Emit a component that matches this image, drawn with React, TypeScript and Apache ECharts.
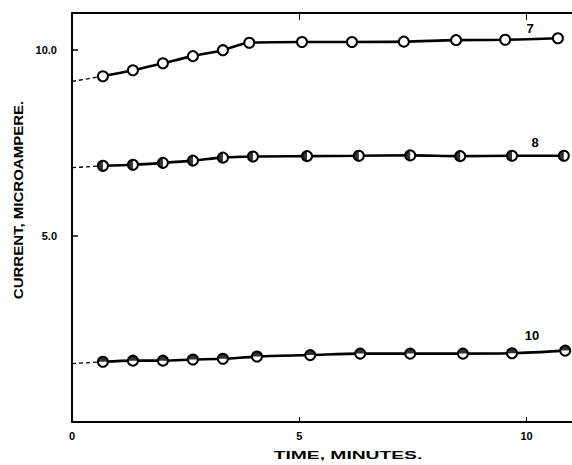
import React, { useEffect, useRef } from "react";
import * as echarts from "echarts";

// Data
const timeS7 = [0.68, 1.34, 2.0, 2.66, 3.32, 3.9, 5.06, 6.16, 7.3, 8.45, 9.53, 10.69];
const currentS7 = [9.3, 9.46, 9.65, 9.84, 10.0, 10.2, 10.22, 10.22, 10.23, 10.27, 10.28, 10.32];
const timeS8 = [0.68, 1.34, 2.0, 2.66, 3.32, 3.98, 5.17, 6.31, 7.44, 8.54, 9.68, 10.82];
const currentS8 = [6.89, 6.92, 6.97, 7.03, 7.11, 7.14, 7.15, 7.16, 7.17, 7.15, 7.16, 7.16];
const timeS10 = [0.68, 1.34, 2.0, 2.66, 3.32, 4.07, 5.24, 6.34, 7.44, 8.6, 9.68, 10.85];
const currentS10 = [1.62, 1.65, 1.65, 1.68, 1.7, 1.76, 1.8, 1.84, 1.84, 1.84, 1.85, 1.92];
const interceptAtZero = [9.16, 6.84, 1.57];
const curveNames = ["7", "8", "10"];
const curveLabelX = [10.08, 10.19, 10.12];
const curveLabelY = [10.57, 7.51, 2.32];
const xTickLabels = [0, 5, 10];
const yTickLabels = [5, 10];

const pairs = (xs: number[], ys: number[]) => xs.map((x, i) => [x, ys[i]]);

const HALF_LEFT = "path://M10,0 A10,10 0 0,0 10,20 Z";
const HALF_TOP = "path://M0,10 A10,10 0 0,1 20,10 Z";

export default function App() {
  const ref = useRef<HTMLDivElement>(null);
  useEffect(() => {
    if (!ref.current) return;
    const chart = echarts.init(ref.current, null, { renderer: "svg" });
    const sets = [
      [timeS7, currentS7],
      [timeS8, currentS8],
      [timeS10, currentS10],
    ];
    const series: any[] = [];
    sets.forEach(([xs, ys], i) => {
      series.push({
        type: "line",
        data: [
          [0, interceptAtZero[i]],
          [xs[0], ys[0]],
        ],
        symbol: "none",
        lineStyle: { color: "#000", width: 1.3, type: [4, 3] },
        z: 2,
      });
      series.push({
        type: "line",
        data: pairs(xs, ys),
        smooth: 0.3,
        symbol: "circle",
        symbolSize: 10,
        itemStyle: { color: "#fff", borderColor: "#000", borderWidth: 2 },
        lineStyle: { color: "#000", width: 2.6 },
        z: 3,
      });
    });
    series.push({
      type: "scatter",
      data: pairs(timeS8, currentS8),
      symbol: HALF_LEFT,
      symbolSize: [5, 10],
      symbolOffset: [-2.5, 0],
      itemStyle: { color: "#000" },
      z: 5,
    });
    series.push({
      type: "scatter",
      data: pairs(timeS10, currentS10),
      symbol: HALF_TOP,
      symbolSize: [10, 5],
      symbolOffset: [0, -2.5],
      itemStyle: { color: "#000" },
      z: 5,
    });

    const baseGraphic: any[] = [
      {
        id: "ytitle",
        type: "text",
        x: 19,
        y: 200,
        rotation: Math.PI / 2,
        scaleX: 1.25,
        style: {
          text: "CURRENT, MICROAMPERE.",
          fill: "#000",
          font: "bold 12px 'Liberation Sans'",
          align: "center",
          verticalAlign: "middle",
        },
      },
      {
        id: "xtitle",
        type: "text",
        x: 348,
        y: 455,
        scaleX: 1.75,
        style: {
          text: "TIME, MINUTES.",
          fill: "#000",
          font: "bold 11px 'Liberation Sans'",
          align: "center",
          verticalAlign: "middle",
        },
      },
    ];

    chart.setOption({
      animation: false,
      backgroundColor: "#fff",
      grid: { left: 72, right: 0, top: 13, bottom: 43 },
      xAxis: [
        {
          type: "value",
          min: 0,
          max: 11,
          position: "bottom",
          splitLine: { show: false },
          axisLine: { lineStyle: { color: "#000", width: 2 } },
          axisTick: {
            inside: true,
            length: 5,
            customValues: [5, 10],
            lineStyle: { color: "#000", width: 1 },
          },
          axisLabel: {
            customValues: xTickLabels,
            margin: 8,
            color: "#000",
            fontFamily: "Liberation Sans",
            fontWeight: "bold",
            fontSize: 11,
          },
        },
        {
          type: "value",
          min: 0,
          max: 11,
          position: "top",
          splitLine: { show: false },
          axisLine: { lineStyle: { color: "#000", width: 2 } },
          axisTick: {
            inside: true,
            length: 7,
            customValues: [5, 10],
            lineStyle: { color: "#000", width: 1 },
          },
          axisLabel: { show: false },
        },
      ],
      yAxis: {
        type: "value",
        min: 0,
        max: 11,
        splitLine: { show: false },
        axisLine: { lineStyle: { color: "#000", width: 2 } },
        axisTick: {
          inside: true,
          length: 6,
          customValues: yTickLabels,
          lineStyle: { color: "#000", width: 1.5 },
        },
        axisLabel: {
          customValues: yTickLabels,
          formatter: (v: number) => v.toFixed(1),
          margin: 15,
          color: "#000",
          fontFamily: "Liberation Sans",
          fontWeight: "bold",
          fontSize: 11,
        },
      },
      graphic: baseGraphic,
      series,
    });

    const labelGraphic = curveNames.map((n, i) => {
      const [px, py] = chart.convertToPixel({ gridIndex: 0 }, [curveLabelX[i], curveLabelY[i]]) as number[];
      return {
        id: "curve-" + n,
        type: "text",
        x: px,
        y: py,
        z: 10,
        style: {
          text: n,
          fill: "#000",
          font: "bold 13px 'Liberation Sans'",
          align: "center",
          verticalAlign: "middle",
        },
      };
    });
    chart.setOption({ graphic: [...baseGraphic, ...labelGraphic] });

    return () => chart.dispose();
  }, []);
  return (
    <div
      ref={ref}
      style={{ position: "absolute", left: 0, top: 0, width: 572, height: 465 }}
    />
  );
}
